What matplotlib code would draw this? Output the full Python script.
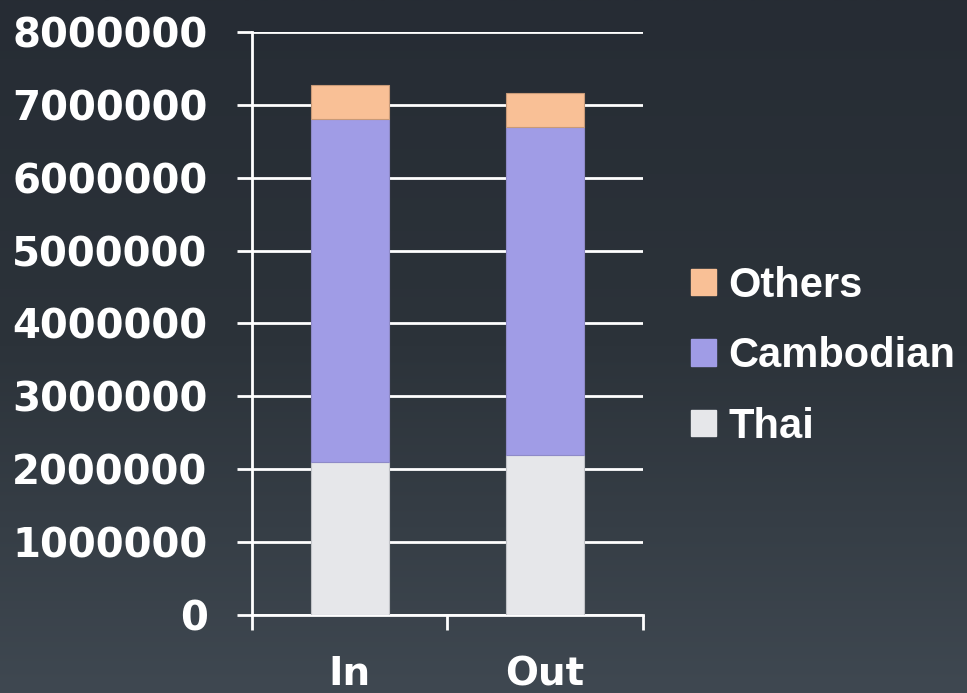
import numpy as np
import matplotlib
matplotlib.use("Agg")
import matplotlib.pyplot as plt
from matplotlib.patches import Patch
from matplotlib.colors import LinearSegmentedColormap

# data
categories = ["In", "Out"]
thai = [2100000, 2200000]
cambodian = [4700000, 4500000]
others = [470000, 460000]
series_names = ["Thai", "Cambodian", "Others"]
colors = ["#e6e7ea", "#a09ce6", "#f9c096"]
edges = ["#c0c2c6", "#8e8ac8", "#c89a78"]

plt.rcParams['font.family'] = ['DejaVu Sans']
plt.rcParams['font.weight'] = 'bold'

fig = plt.figure(figsize=(9.67, 6.93), dpi=100)

# background gradient
bg = fig.add_axes([0, 0, 1, 1], zorder=-10)
grad = np.linspace(0, 1, 256).reshape(-1, 1)
cmap = LinearSegmentedColormap.from_list("bg", ["#3f4851", "#2c333a", "#262c34"])
bg.imshow(grad, aspect="auto", cmap=cmap, origin="lower", extent=[0, 1, 0, 1])
bg.axis("off")

ax = fig.add_axes([0.2606, 0.1126, 0.404, 0.8412])
ax.patch.set_alpha(0)

x = np.arange(len(categories))
bottom = np.zeros(len(categories))
for vals, name, c, ec in zip([thai, cambodian, others], series_names, colors, edges):
    ax.bar(x, vals, width=0.4, bottom=bottom, color=c, edgecolor=ec, linewidth=0.8,
           label=name, zorder=3)
    bottom += np.array(vals)

ax.set_xlim(-0.5, 1.5)
ax.set_ylim(0, 8000000)
ax.set_yticks(np.arange(0, 8000001, 1000000))
ax.set_yticklabels([str(v) for v in range(0, 8000001, 1000000)], fontsize=29,
                   color="white", fontweight="bold")
ax.yaxis.grid(True, color="white", linewidth=2.0, zorder=0)

ax.set_xticks([-0.5, 0.5, 1.5])
ax.set_xticklabels([])
ax.set_xticks(x, minor=True)
ax.set_xticklabels(categories, minor=True, fontsize=28, color="white", fontweight="bold")
ax.tick_params(axis="x", which="minor", length=0, pad=29)
ax.tick_params(axis="both", which="major", direction="out", length=11, width=2.0,
               color="white")
ax.tick_params(axis="y", pad=21)

for s in ["top", "right"]:
    ax.spines[s].set_visible(False)
for s in ["left", "bottom"]:
    ax.spines[s].set_color("white")
    ax.spines[s].set_linewidth(2.0)

handles = [Patch(facecolor=c, edgecolor=c) for c in colors]
leg = fig.legend(handles[::-1], series_names[::-1], loc="center left",
                 bbox_to_anchor=(0.676, 0.486), frameon=False,
                 prop={"family": "Liberation Sans", "weight": "bold", "size": 30},
                 labelcolor="white", handlelength=0.6, handleheight=0.6,
                 handletextpad=0.3, labelspacing=0.73)

fig.savefig("out.png", dpi=100)
